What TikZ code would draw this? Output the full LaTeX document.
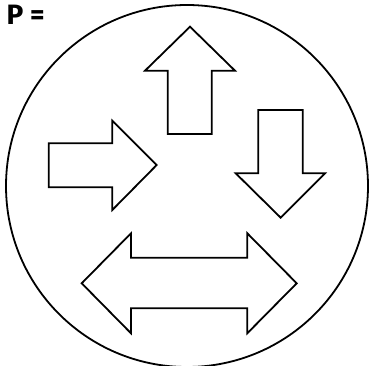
\documentclass[tikz,border=0pt]{standalone}
\usepackage{fontspec}
\setsansfont{Fira Sans}
\begin{document}
\begin{tikzpicture}[x=1pt,y=-1pt]
    \tikzstyle{outline} = [draw=black, line width=1.8pt, line join=miter]
    \tikzstyle{label} = [font=\sffamily\bfseries\fontsize{28}{28}\selectfont,
        inner sep=0pt, anchor=base west]

    \useasboundingbox (0,0) rectangle (370,366);

    \node (title) [label] at (6.5,25) {P =};

    % Kreis
    \draw [outline] (187,186) circle (181);

    % Pfeil nach oben
    \draw [outline] (167.7,134) -- (167.7,70.7) -- (145,70.7) -- (190,26.7)
        -- (235,70.7) -- (211.7,70.7) -- (211.7,134) -- cycle;
    % Pfeil nach unten
    \draw [outline] (258.3,110) -- (302.7,110) -- (302.7,173.3) -- (325,173.3)
        -- (280.7,217.7) -- (235.7,173.3) -- (258.3,173.3) -- cycle;
    % Pfeil nach rechts
    \draw [outline] (48.7,143.3) -- (112.3,143.3) -- (112.3,120.7) -- (156.7,165)
        -- (112.3,210) -- (112.3,187.3) -- (48.7,187.3) -- cycle;
    % Doppelpfeil
    \draw [outline] (81.7,283.3) -- (131,233.3) -- (131,257.7) -- (247.3,257.7)
        -- (247.3,233.3) -- (296.7,283.3) -- (247.3,333.3) -- (247.3,308.3)
        -- (131,308.3) -- (131,333.3) -- cycle;
\end{tikzpicture}
\end{document}
